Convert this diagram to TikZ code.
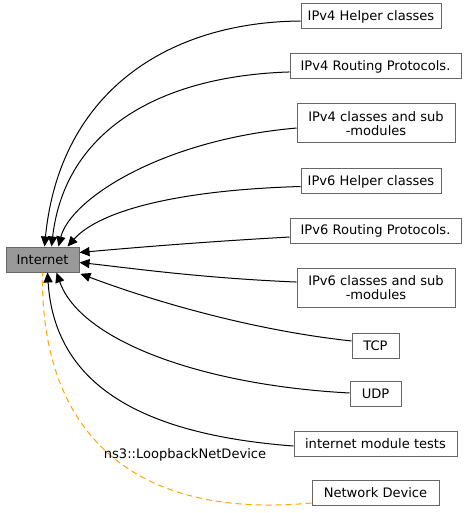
\documentclass[tikz,border=0pt]{standalone}
\usepackage{fontspec}
\setmainfont{DejaVu Sans}
\usetikzlibrary{arrows.meta}
\definecolor{boxline}{HTML}{666666}
\definecolor{inetfill}{HTML}{999999}
\definecolor{dashorange}{HTML}{FFA500}
\begin{document}
\begin{tikzpicture}[x=0.75pt,y=-0.75pt,
  font=\fontsize{9.8}{10.5}\selectfont,
  grp/.style={draw=boxline,line width=0.75pt,fill=white,inner sep=0pt,align=center,minimum height=18.75pt},
  grp2/.style={grp,minimum height=29.25pt},
  dep/.style={line width=0.75pt,-{Triangle[length=7.5pt,width=6.8pt]}},
  memb/.style={line width=0.75pt,draw=dashorange,dash pattern=on 4.5pt off 3pt}]
\useasboundingbox (0,0) rectangle (467,513);
\node[grp,fill=inetfill,minimum width=54.75pt] (inet) at (42.5,259.5) {Internet};
\node[grp,minimum width=105pt] (v4h) at (371,16.5) {IPv4 Helper classes};
\node[grp,minimum width=128.25pt] (v4r) at (375.5,66.5) {IPv4 Routing Protocols.};
\node[grp2,minimum width=118.5pt] (v4c) at (376,123.5) {IPv4 classes and sub\\-modules};
\node[grp,minimum width=105pt] (v6h) at (371,181.5) {IPv6 Helper classes};
\node[grp,minimum width=128.25pt] (v6r) at (375.5,230.5) {IPv6 Routing Protocols.};
\node[grp2,minimum width=118.5pt] (v6c) at (376,287.5) {IPv6 classes and sub\\-modules};
\node[grp,minimum width=35.25pt] (tcp) at (375.5,345.5) {TCP};
\node[grp,minimum width=38.25pt] (udp) at (375.5,394) {UDP};
\node[grp,minimum width=122.25pt] (tests) at (375.5,443.5) {internet module tests};
\node[grp,minimum width=95.25pt] (netdev) at (375.5,493) {Network Device};

\draw[dep] ([yshift=-3.4pt]v4h.west) .. controls (170,22) and (60,90) .. ([xshift=29.25pt]inet.north west);
\draw[dep] ([yshift=-4.1pt]v4r.west) .. controls (160,76) and (65,130) .. ([xshift=34.5pt]inet.north west);
\draw[dep] ([yshift=-3.4pt]v4c.west) .. controls (160,140) and (70,200) .. ([xshift=39.75pt]inet.north west);
\draw[dep] ([yshift=-3.75pt]v6h.west) .. controls (180,190) and (100,210) .. ([xshift=46.5pt]inet.north west);
\draw[dep] ([yshift=-4.9pt]v6r.west) .. controls (200,242) and (130,248) .. ([yshift=-4.5pt]inet.north east);
\draw[dep] ([yshift=4.1pt]v6c.west) .. controls (200,278) and (130,268) .. ([yshift=-12pt]inet.north east);
\draw[dep] ([yshift=3.4pt]tcp.west) .. controls (250,330) and (150,300) .. ([xshift=0.75pt,yshift=-1pt]inet.south east);
\draw[dep] ([yshift=0.75pt]udp.west) .. controls (200,385) and (80,340) .. ([xshift=38.25pt]inet.south west);
\draw[dep] ([yshift=-1.9pt]tests.west) .. controls (150,435) and (55,390) .. ([xshift=31.5pt]inet.south west);
\draw[memb] ([yshift=-7.5pt]netdev.west) .. controls (130,520) and (40,430) .. ([xshift=27.75pt]inet.south west);
\node (lbl) at (185,455) {ns3::LoopbackNetDevice};
\end{tikzpicture}
\end{document}
